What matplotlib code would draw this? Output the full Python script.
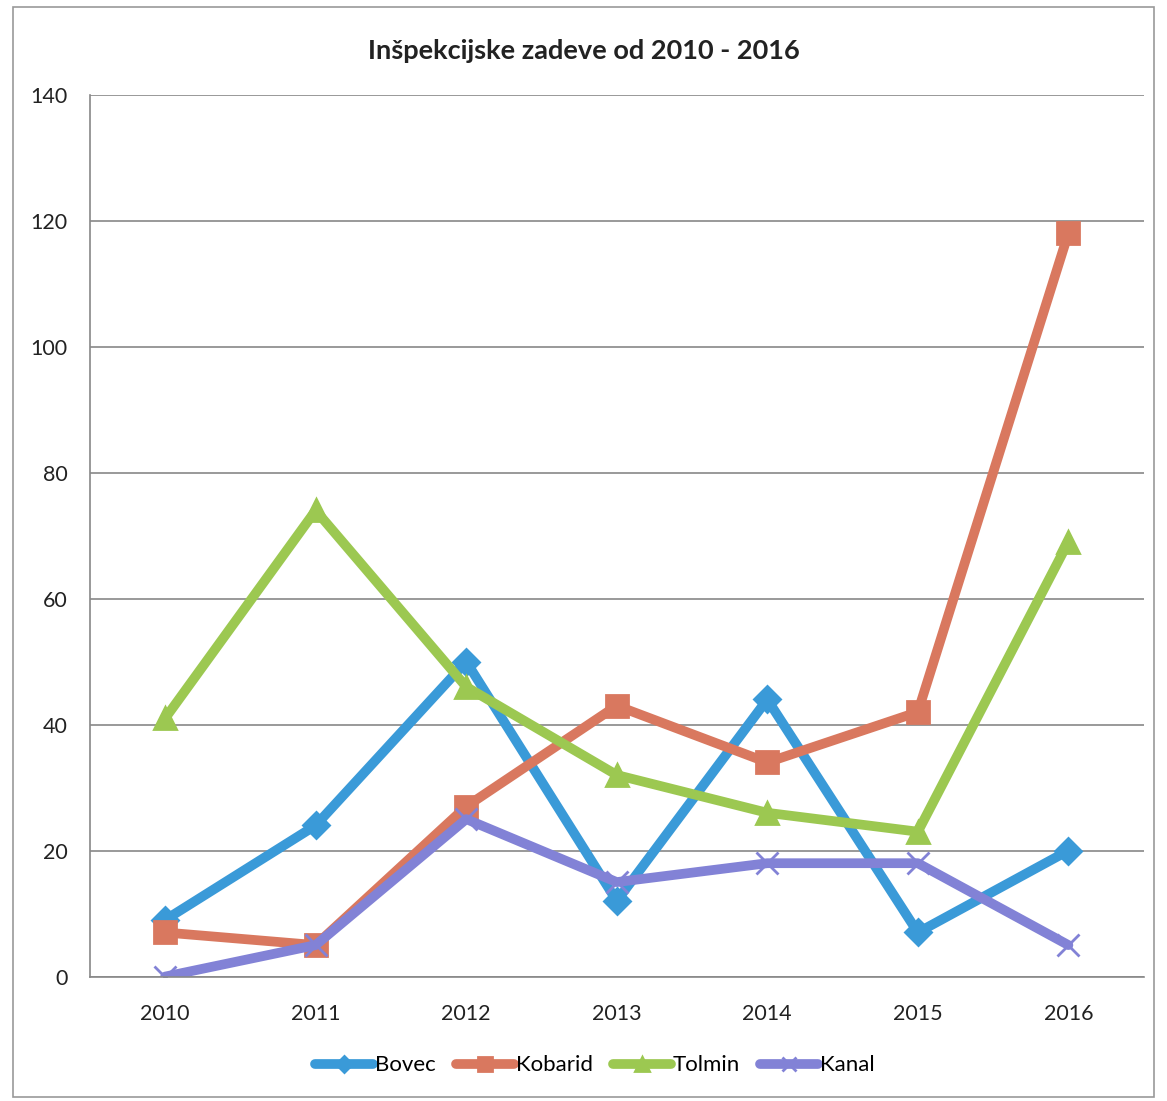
import matplotlib.pyplot as plt
from matplotlib.patches import Rectangle

plt.rcParams['font.family'] = ['Lato', 'DejaVu Sans']

years = ['2010', '2011', '2012', '2013', '2014', '2015', '2016']
bovec = [9, 24, 50, 12, 44, 7, 20]
kobarid = [7, 5, 27, 43, 34, 42, 118]
tolmin = [41, 74, 46, 32, 26, 23, 69]
kanal = [0, 5, 25, 15, 18, 18, 5]

series = [
    ('Bovec', bovec, '#3a9ad8', 'D', 13),
    ('Kobarid', kobarid, '#d9785f', 's', 16),
    ('Tolmin', tolmin, '#9cc851', '^', 16),
    ('Kanal', kanal, '#8282d6', 'x', 16),
]

fig = plt.figure(figsize=(11.67, 11.01), dpi=100)
ax = fig.add_axes([0.077, 0.113, 0.903, 0.801])

x = range(len(years))
for name, vals, col, mk, ms in series:
    ax.plot(x, vals, color=col, lw=7, marker=mk, markersize=ms,
            markeredgewidth=2, markeredgecolor=col,
            label=name, solid_capstyle='round', solid_joinstyle='round')

ax.set_xlim(-0.5, len(years) - 0.5)
ax.set_ylim(0, 140)
ax.set_yticks(range(0, 141, 20))
ax.set_xticks(list(x))
ax.set_xticklabels(years)
ax.tick_params(axis='both', labelsize=15.5, length=0, colors='#222222')
ax.tick_params(axis='x', pad=20)
ax.tick_params(axis='y', pad=16)
ax.grid(axis='y', color='#888888', lw=1.2)
ax.set_axisbelow(True)
for s in ['top', 'right']:
    ax.spines[s].set_visible(False)
ax.spines['left'].set_color('#888888')
ax.spines['bottom'].set_color('#888888')
ax.spines['left'].set_linewidth(1.2)
ax.spines['bottom'].set_linewidth(1.2)

fig.suptitle('Inšpekcijske zadeve od 2010 - 2016', y=0.965, fontsize=19.5,
             fontweight='bold', color='#222222')

leg = fig.legend(loc='lower center', bbox_to_anchor=(0.51, 0.005), ncol=4,
                 frameon=False, fontsize=16, handlelength=2.6, markerscale=0.6,
                 columnspacing=0.9, handletextpad=0.1)

fig.patches.append(Rectangle((0.011, 0.004), 0.978, 0.99, transform=fig.transFigure,
                             fill=False, edgecolor='#999999', lw=1.2))

fig.savefig('out.png', dpi=100)
